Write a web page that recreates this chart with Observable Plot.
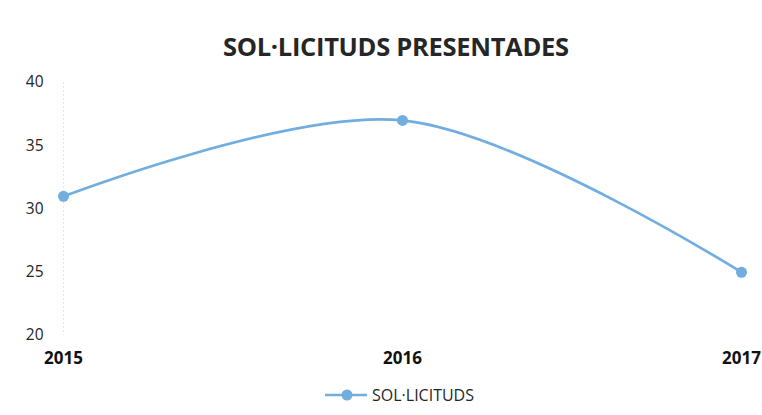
<!DOCTYPE html>
<html><head><meta charset="utf-8">
<script src="https://cdn.jsdelivr.net/npm/d3@7"></script>
<script src="https://cdn.jsdelivr.net/npm/@observablehq/plot@0.6"></script>
<style>
body{margin:0;background:#fff;font-family:"Open Sans",sans-serif;}
#wrap{width:762px;height:415px;position:relative;overflow:hidden;}
#title{position:absolute;top:28px;left:223px;white-space:nowrap;font-weight:700;font-size:25.5px;line-height:36px;color:#262626;letter-spacing:-0.3px;}
#chart{position:absolute;top:65px;left:0;}
#legend{position:absolute;top:384px;left:325px;display:flex;align-items:center;font-size:16px;line-height:22px;color:#262626;}
#legend svg{margin-right:5px;}
</style></head>
<body><div id="wrap"><div id="title">SOL·LICITUDS PRESENTADES</div><div id="chart"></div><div id="legend"></div></div>
<script>
const years = ["2015","2016","2017"];
const values = [31, 37, 25];
const yTicks = [20, 25, 30, 35, 40];
const seriesName = "SOL·LICITUDS";
const color = "#72addf";

const data = years.map((y, i) => ({year: y, value: values[i]}));

const chart = Plot.plot({
  width: 762, height: 305,
  marginLeft: 62, marginRight: 21, marginTop: 17, marginBottom: 35,
  style: {fontFamily: "Open Sans, sans-serif", background: "transparent"},
  x: {type: "point", domain: years, padding: 0, label: null},
  y: {domain: [20, 40], ticks: yTicks, label: null},
  marks: [
    Plot.ruleX([years[0]], {stroke: "#e6e6e6", strokeDasharray: "2,2"}),
    Plot.axisY({ticks: yTicks, tickSize: 0, tickPadding: 19, fontSize: 15.5, fill: "#262626"}),
    Plot.axisX({tickSize: 0, tickPadding: 16, fontSize: 17, fontWeight: "bold", fill: "#111"}),
    Plot.line(data, {x: "year", y: "value", stroke: color, strokeWidth: 2.7, curve: "catmull-rom"}),
    Plot.dot(data, {x: "year", y: "value", r: 5.5, fill: color})
  ]
});
document.getElementById("chart").appendChild(chart);

const leg = document.getElementById("legend");
leg.innerHTML = `<svg width="42" height="14"><line x1="0" x2="42" y1="7" y2="7" stroke="${color}" stroke-width="2.7"/><circle cx="22" cy="7" r="5.5" fill="${color}"/></svg><span>${seriesName}</span>`;
</script></body></html>
